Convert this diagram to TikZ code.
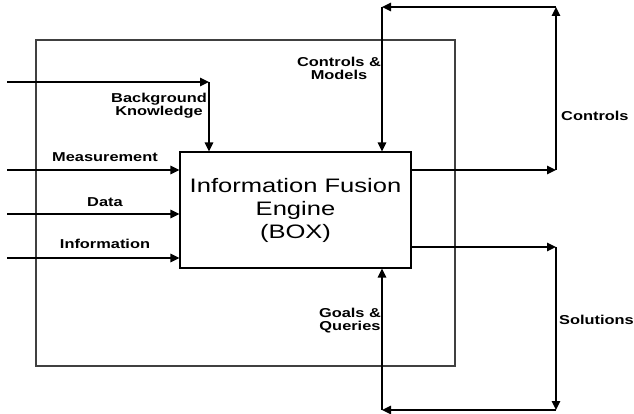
\documentclass[tikz,border=0pt]{standalone}
\usepackage{fontspec}
\usetikzlibrary{arrows.meta}
\newfontfamily\lblfont{Liberation Sans}[FakeStretch=1.27]
\newfontfamily\boxfont{Liberation Sans}[FakeStretch=1.31]
\begin{document}
\begin{tikzpicture}[x=1pt,y=-1pt,
  conn/.style={line width=1.6pt,-{Triangle[length=9pt,width=8.5pt]}},
  lbl/.style={inner sep=0pt,align=center,font=\lblfont\bfseries\fontsize{12.9}{13}\selectfont},
  engbox/.style={draw,line width=1.2pt,minimum width=231pt,minimum height=116pt,inner sep=0pt,align=center,
    font=\boxfont\fontsize{19.5}{23}\selectfont},
  outerbox/.style={draw=black!75,line width=1.3pt,minimum width=419pt,minimum height=326pt,inner sep=0pt}]
\useasboundingbox (0,0) rectangle (634,414);
\node[outerbox] (outer) at (245.5,203) {};
\node[engbox] (eng) at (295.5,210) {Information Fusion\\Engine\\(BOX)};
% inputs
\coordinate (bkin) at (7,82);
\coordinate (bkc) at (209,82);
\coordinate (msin) at (7,170);
\coordinate (dtin) at (7,214);
\coordinate (inin) at (7,258);
\draw[conn] (bkin) -- (bkc);
\draw[conn] (bkc) -- (bkc |- eng.north);
\draw[conn] (msin) -- (msin -| eng.west);
\draw[conn] (dtin) -- (dtin -| eng.west);
\draw[conn] (inin) -- (inin -| eng.west);
% controls loop
\coordinate (coa) at (556,170);
\coordinate (cob) at (556,7);
\coordinate (coc) at (382,7);
\draw[conn] (coa -| eng.east) -- (coa);
\draw[conn] (coa) -- (cob);
\draw[conn] (cob) -- (coc);
\draw[conn] (coc) -- (coc |- eng.north);
% solutions loop
\coordinate (soa) at (556,247);
\coordinate (sob) at (556,410);
\coordinate (soc) at (382,410);
\draw[conn] (soa -| eng.east) -- (soa);
\draw[conn] (soa) -- (sob);
\draw[conn] (sob) -- (soc);
\draw[conn] (soc) -- (soc |- eng.south);
% labels
\node[lbl] (lbk) at (159,106) {Background\\Knowledge};
\node[lbl,anchor=base] (lms) at (105,162) {Measurement};
\node[lbl,anchor=base] (ldt) at (105,206) {Data};
\node[lbl,anchor=base] (lin) at (105,248) {Information};
\node[lbl] (lcm) at (339,68) {Controls \&\\Models};
\node[lbl] (lgq) at (350,321) {Goals \&\\Queries};
\node[lbl,anchor=west] (lco) at (561,116) {Controls};
\node[lbl,anchor=west] (lso) at (559,320) {Solutions};
\end{tikzpicture}
\end{document}
